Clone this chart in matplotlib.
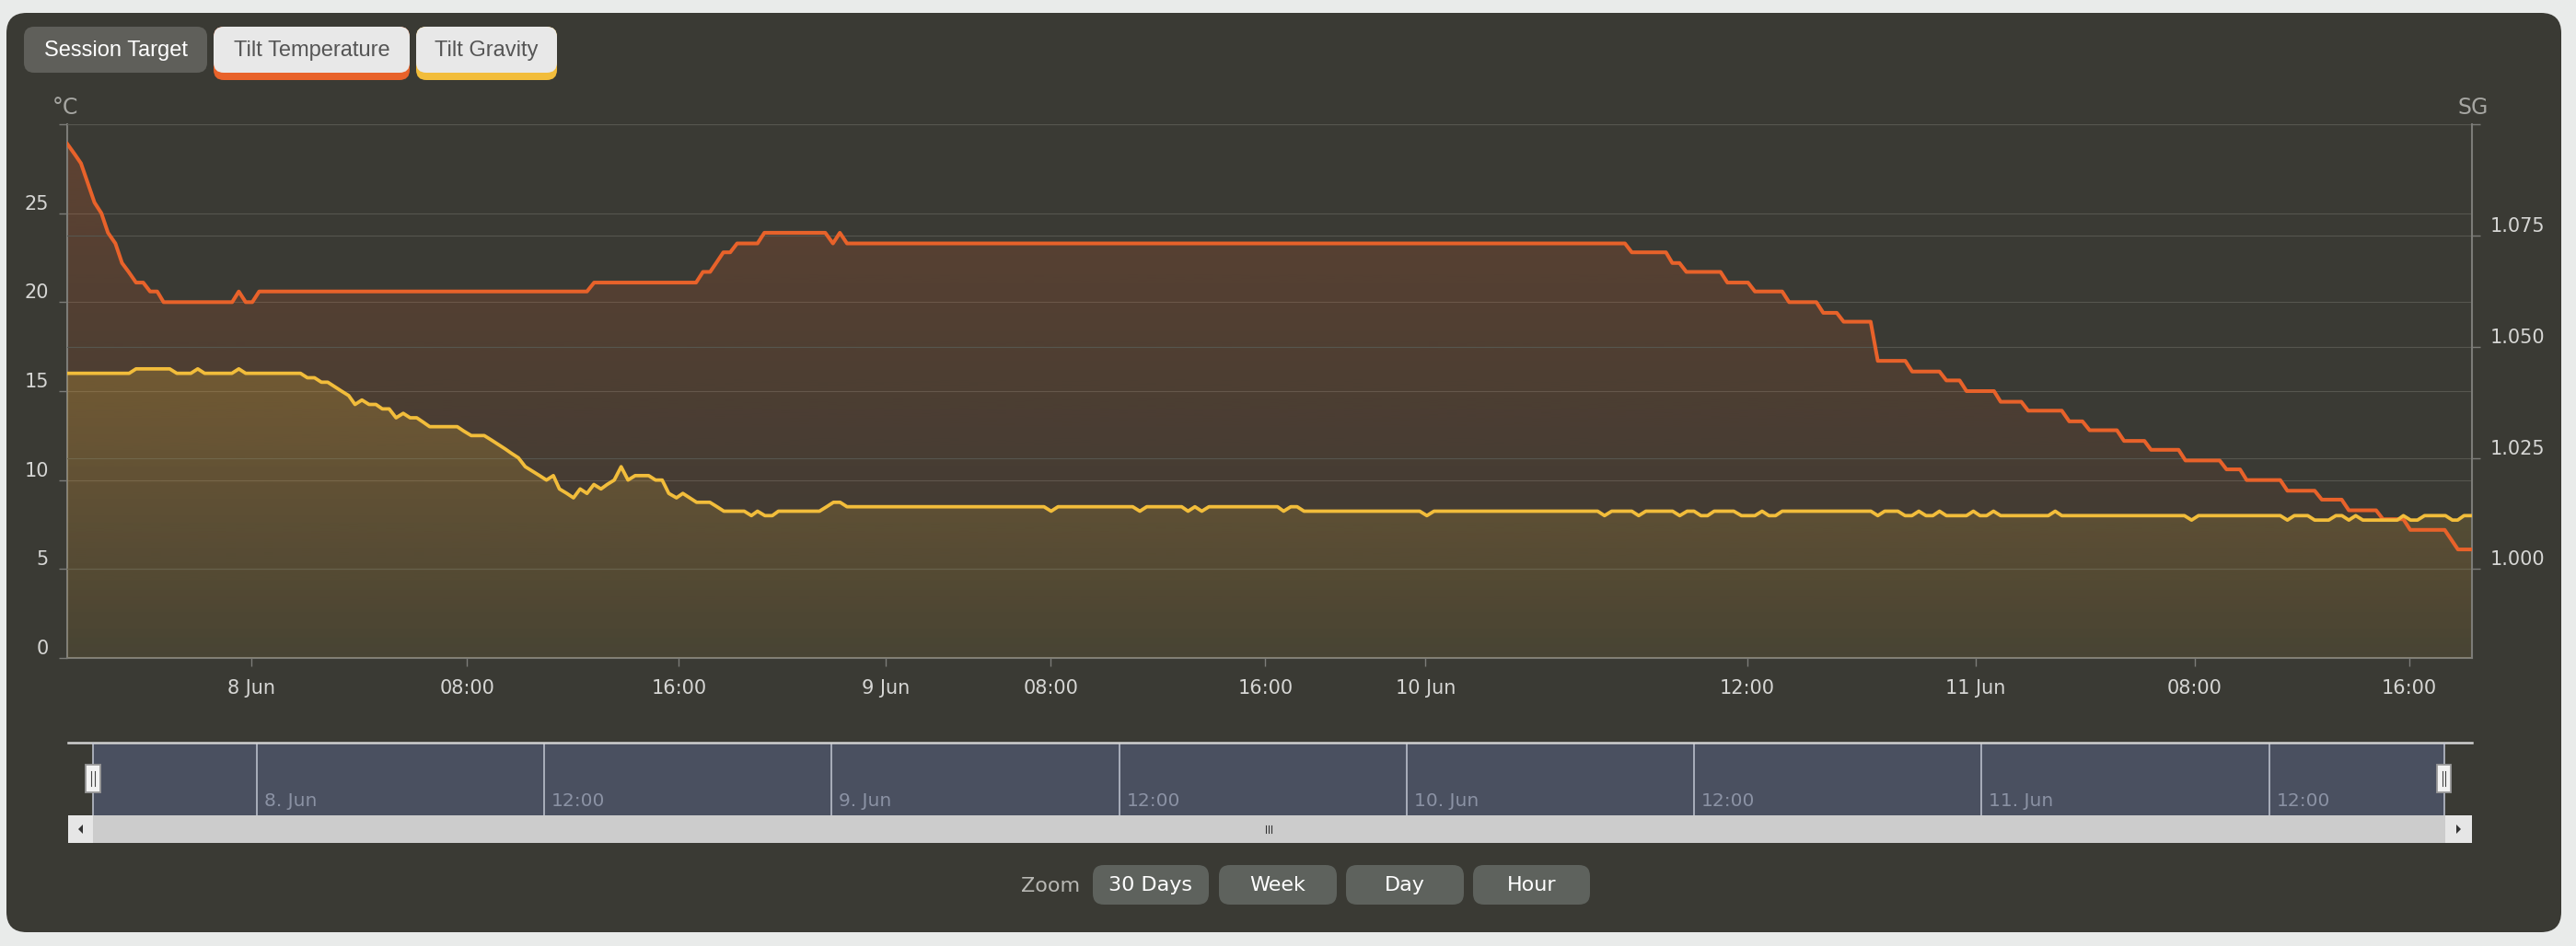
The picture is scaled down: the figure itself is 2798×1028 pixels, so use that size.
import numpy as np
import matplotlib
matplotlib.use("Agg")
import matplotlib.pyplot as plt
import matplotlib.colors as mcolors
from matplotlib.patches import FancyBboxPatch, Rectangle, Polygon
from matplotlib.transforms import blended_transform_factory, ScaledTranslation

# ---------------------------------------------------------------------------
# data (x = position along the ordinal time axis, in hours-like units)
# ---------------------------------------------------------------------------
TEMP_X = [0.0, 0.29, 0.52, 1.03, 1.29, 1.54, 1.82, 2.07, 2.32, 2.60,
          2.87, 3.13, 3.40, 3.64, 6.23, 6.48, 6.74, 6.99, 7.25, 19.63,
          19.90, 23.75, 24.01, 24.28, 24.51, 24.78, 25.04, 25.30, 26.07, 26.33,
          28.63, 28.92, 29.18, 29.45, 58.83, 59.09, 60.38, 60.62, 60.89, 61.15,
          62.44, 62.70, 63.48, 63.74, 64.77, 65.03, 66.06, 66.32, 66.83, 67.09,
          68.11, 68.38, 69.42, 69.68, 70.71, 70.97, 71.47, 71.73, 72.77, 73.02,
          73.80, 74.06, 75.33, 75.61, 76.11, 76.38, 77.41, 77.68, 78.45, 78.70,
          79.74, 80.00, 81.29, 81.55, 82.06, 82.31, 83.58, 83.85, 84.88, 85.15,
          85.90, 86.17, 87.20, 87.46, 88.23, 88.49, 89.79, 90.29, 90.82]
TEMP_C = [28.9, 28.3, 27.8, 25.6, 25.0, 23.9, 23.3, 22.2, 21.7, 21.1,
          21.1, 20.6, 20.6, 20.0, 20.0, 20.6, 20.0, 20.0, 20.6, 20.6,
          21.1, 21.1, 21.7, 21.7, 22.2, 22.8, 22.8, 23.3, 23.3, 23.9,
          23.9, 23.3, 23.9, 23.3, 23.3, 22.8, 22.8, 22.2, 22.2, 21.7,
          21.7, 21.1, 21.1, 20.6, 20.6, 20.0, 20.0, 19.4, 19.4, 18.9,
          18.9, 16.7, 16.7, 16.1, 16.1, 15.6, 15.6, 15.0, 15.0, 14.4,
          14.4, 13.9, 13.9, 13.3, 13.3, 12.8, 12.8, 12.2, 12.2, 11.7,
          11.7, 11.1, 11.1, 10.6, 10.6, 10.0, 10.0, 9.4, 9.4, 8.9,
          8.9, 8.3, 8.3, 7.8, 7.8, 7.2, 7.2, 6.1, 6.1]

GRAV_X = [0.0, 2.34, 2.60, 3.87, 4.14, 4.67, 4.93, 5.19, 6.22, 6.48,
          6.74, 8.81, 9.07, 9.34, 9.60, 9.84, 10.10, 10.36, 10.63, 10.87,
          11.13, 11.40, 11.66, 11.90, 12.16, 12.42, 12.69, 12.95, 13.20, 13.45,
          13.69, 14.73, 14.98, 15.26, 15.75, 16.02, 16.28, 16.54, 16.78, 17.04,
          17.30, 17.57, 17.84, 18.10, 18.36, 18.59, 18.87, 19.12, 19.37, 19.63,
          19.89, 20.16, 20.39, 20.66, 20.92, 21.18, 21.45, 21.96, 22.22, 22.47,
          22.72, 23.01, 23.25, 23.51, 23.77, 24.27, 24.54, 24.80, 25.57, 25.84,
          26.07, 26.35, 26.63, 26.86, 28.41, 28.68, 28.94, 29.19, 29.45, 36.89,
          37.16, 37.42, 40.24, 40.51, 40.77, 42.09, 42.33, 42.59, 42.85, 43.12,
          45.71, 45.94, 46.21, 46.45, 46.71, 51.08, 51.35, 51.62, 57.80, 58.06,
          58.33, 59.09, 59.35, 59.62, 60.63, 60.90, 61.18, 61.44, 61.70, 61.95,
          62.20, 62.94, 63.23, 63.74, 64.01, 64.27, 64.52, 64.77, 68.12, 68.38,
          68.64, 69.14, 69.41, 69.67, 69.93, 70.20, 70.46, 70.71, 70.97, 71.73,
          71.99, 72.24, 72.49, 72.75, 73.02, 74.82, 75.08, 75.33, 79.96, 80.23,
          80.49, 83.58, 83.85, 84.11, 84.62, 84.88, 85.41, 85.68, 85.91, 86.17,
          86.43, 86.70, 88.00, 88.23, 88.50, 88.76, 89.03, 89.82, 90.08, 90.28,
          90.52, 90.82]
GRAV_SG = [1.044, 1.044, 1.045, 1.045, 1.044, 1.044, 1.045, 1.044, 1.044, 1.045,
           1.044, 1.044, 1.043, 1.043, 1.042, 1.042, 1.041, 1.040, 1.039, 1.037,
           1.038, 1.037, 1.037, 1.036, 1.036, 1.034, 1.035, 1.034, 1.034, 1.033,
           1.032, 1.032, 1.031, 1.030, 1.030, 1.029, 1.028, 1.027, 1.026, 1.025,
           1.023, 1.022, 1.021, 1.020, 1.021, 1.018, 1.017, 1.016, 1.018, 1.017,
           1.019, 1.018, 1.019, 1.020, 1.023, 1.020, 1.021, 1.021, 1.020, 1.020,
           1.017, 1.016, 1.017, 1.016, 1.015, 1.015, 1.014, 1.013, 1.013, 1.012,
           1.013, 1.012, 1.012, 1.013, 1.013, 1.014, 1.015, 1.015, 1.014, 1.014,
           1.013, 1.014, 1.014, 1.013, 1.014, 1.014, 1.013, 1.014, 1.013, 1.014,
           1.014, 1.013, 1.014, 1.014, 1.013, 1.013, 1.012, 1.013, 1.013, 1.012,
           1.013, 1.013, 1.012, 1.013, 1.013, 1.012, 1.013, 1.013, 1.012, 1.012,
           1.013, 1.013, 1.012, 1.012, 1.013, 1.012, 1.012, 1.013, 1.013, 1.012,
           1.013, 1.013, 1.012, 1.012, 1.013, 1.012, 1.012, 1.013, 1.012, 1.012,
           1.013, 1.012, 1.012, 1.013, 1.012, 1.012, 1.013, 1.012, 1.012, 1.011,
           1.012, 1.012, 1.011, 1.012, 1.012, 1.011, 1.011, 1.012, 1.012, 1.011,
           1.012, 1.011, 1.011, 1.012, 1.011, 1.011, 1.012, 1.012, 1.011, 1.011,
           1.012, 1.012]

X_RANGE = (0.0, 90.82)
XTICK_POS = [6.96, 15.10, 23.10, 30.92, 37.15, 45.25, 51.30, 63.44, 72.07, 80.35, 88.45]
XTICK_LABELS = ["8 Jun", "08:00", "16:00", "9 Jun", "08:00", "16:00",
                "10 Jun", "12:00", "11 Jun", "08:00", "16:00"]

TEMP_RANGE = (0, 30)
TEMP_TICKS = [0, 5, 10, 15, 20, 25, 30]
SG_RANGE = (0.98, 1.10)
SG_TICKS = [1.000, 1.025, 1.050, 1.075, 1.100]

# navigator (linear clock hours from 8 Jun 00:00)
NAV_RANGE = (-7.88, 92.47)
NAV_SELECTION = (-6.84, 91.30)
NAV_TICKS = [0, 12, 24, 36, 48, 60, 72, 84]
NAV_LABELS = ["8. Jun", "12:00", "9. Jun", "12:00", "10. Jun", "12:00", "11. Jun", "12:00"]

LEGEND_BUTTONS = ["Session Target", "Tilt Temperature", "Tilt Gravity"]
ZOOM_BUTTONS = ["30 Days", "Week", "Day", "Hour"]

# ---------------------------------------------------------------------------
# style
# ---------------------------------------------------------------------------
C_PAGE = "#e9ebea"
C_PANEL = "#3a3a34"
C_GRID = "#56564f"
C_AXIS = "#7c7c78"
C_LABEL = "#d6d6d4"
C_TITLE = "#a6a6a2"
C_TEMP = "#e8622a"
C_GRAV = "#f2bd3b"
C_NAV = "#4a5060"
C_NAV_LINE = "#c3c8d4"
C_NAV_TEXT = "#8b92a4"
C_BTN = "#5e625d"

W, H = 2798, 1028
fig = plt.figure(figsize=(W / 100, H / 100), dpi=100, facecolor=C_PAGE)


def fig_rect(x0, y0, x1, y1):
    """pixel box (origin top-left) -> figure fraction [l, b, w, h]"""
    return [x0 / W, 1 - y1 / H, (x1 - x0) / W, (y1 - y0) / H]


def gradient_area(axis, xs, ys, base, color, a_top, a_bot, z):
    xs = np.asarray(xs)
    ys = np.asarray(ys)
    rgba = np.zeros((256, 1, 4))
    rgba[..., :3] = mcolors.to_rgb(color)
    rgba[:, 0, 3] = np.linspace(a_top, a_bot, 256)
    im = axis.imshow(rgba, aspect="auto", origin="upper", interpolation="bilinear",
                     extent=[xs.min(), xs.max(), base, ys.max()], zorder=z)
    verts = np.vstack([np.column_stack([xs, ys]), [[xs[-1], base], [xs[0], base]]])
    clip = Polygon(verts, closed=True, transform=axis.transData,
                   facecolor="none", edgecolor="none")
    axis.add_patch(clip)
    im.set_clip_path(clip)


# --- background panel / buttons (pixel coordinates) ------------------------
bg = fig.add_axes([0, 0, 1, 1], zorder=0)
bg.set_xlim(0, W)
bg.set_ylim(H, 0)
bg.axis("off")

bg.add_patch(FancyBboxPatch((7, 14), 2775, 999, boxstyle="round,pad=0,rounding_size=22",
                            facecolor=C_PANEL, edgecolor="none"))

btn_boxes = [(26, 225), (232, 445), (452, 605)]
btn_accent = [None, C_TEMP, C_GRAV]
for (x0, x1), label, acc in zip(btn_boxes, LEGEND_BUTTONS, btn_accent):
    if acc is None:
        bg.add_patch(FancyBboxPatch((x0, 29), x1 - x0, 50, boxstyle="round,pad=0,rounding_size=11",
                                    facecolor="#5f5f5a", edgecolor="none"))
        fg = "white"
    else:
        bg.add_patch(FancyBboxPatch((x0, 29), x1 - x0, 58, boxstyle="round,pad=0,rounding_size=11",
                                    facecolor=acc, edgecolor="none"))
        bg.add_patch(FancyBboxPatch((x0, 29), x1 - x0, 50, boxstyle="round,pad=0,rounding_size=11",
                                    facecolor="#e8e8e8", edgecolor="none"))
        fg = "#555555"
    bg.text((x0 + x1) / 2, 55, label, ha="center", va="center", fontsize=17,
            family="Liberation Sans", color=fg)

bg.text(57, 117, "°C", ha="left", va="center", fontsize=17, color=C_TITLE)
bg.text(2703, 117, "SG", ha="right", va="center", fontsize=17, color=C_TITLE)

# scrollbar
bg.add_patch(Rectangle((74, 886), 2611, 30, facecolor="#cccccc", edgecolor="none"))
bg.add_patch(Rectangle((74, 886), 27, 30, facecolor="#e6e6e6", edgecolor="none"))
bg.add_patch(Rectangle((2656, 886), 29, 30, facecolor="#e6e6e6", edgecolor="none"))
bg.add_patch(Polygon([[85, 901], [90, 896], [90, 906]], closed=True, facecolor="#333333"))
bg.add_patch(Polygon([[2673, 901], [2668, 896], [2668, 906]], closed=True, facecolor="#333333"))
for gx in (1375, 1378, 1381):
    bg.plot([gx, gx], [897, 905], color="#333333", lw=0.8)

# zoom buttons
bg.text(1173, 963, "Zoom", ha="right", va="center", fontsize=16, color="#b8b8b4")
zoom_boxes = [(1187, 1313), (1324, 1452), (1462, 1590), (1600, 1727)]
for (x0, x1), label in zip(zoom_boxes, ZOOM_BUTTONS):
    bg.add_patch(FancyBboxPatch((x0, 940), x1 - x0, 43, boxstyle="round,pad=0,rounding_size=12",
                                facecolor=C_BTN, edgecolor="none"))
    bg.text((x0 + x1) / 2, 962, label, ha="center", va="center", fontsize=16, color="white")

# --- main chart --------------------------------------------------------------
ax = fig.add_axes(fig_rect(73, 135, 2685, 715), zorder=1)
ax.patch.set_visible(False)
ax2 = ax.twinx()
ax2.set_zorder(2)
ax2.patch.set_visible(False)

gradient_area(ax, TEMP_X, TEMP_C, TEMP_RANGE[0], C_TEMP, 0.21, 0.0, 1)
gradient_area(ax2, GRAV_X, GRAV_SG, SG_RANGE[0], C_GRAV, 0.22, 0.08, 1)

ax2.plot(TEMP_X, TEMP_C, color=C_TEMP, lw=2.9, solid_joinstyle="round",
         transform=ax.transData, zorder=3)
ax2.plot(GRAV_X, GRAV_SG, color=C_GRAV, lw=2.7, solid_joinstyle="round", zorder=4)

ax.set_xlim(X_RANGE)
ax.set_ylim(TEMP_RANGE)
ax2.set_ylim(SG_RANGE)

ax.set_yticks(TEMP_TICKS)
ax.set_yticklabels([str(t) if t != TEMP_TICKS[-1] else "" for t in TEMP_TICKS])
ax2.set_yticks(SG_TICKS)
ax2.set_yticklabels([f"{t:.3f}" if t != SG_TICKS[-1] else "" for t in SG_TICKS])
ax.set_xticks(XTICK_POS)
ax.set_xticklabels(XTICK_LABELS)

for a in (ax, ax2):
    a.yaxis.grid(True, color=C_GRID, lw=0.8)
    a.set_axisbelow(True)
    for s in a.spines.values():
        s.set_visible(False)
ax.xaxis.grid(False)
ax.spines["left"].set_visible(True)
ax.spines["bottom"].set_visible(True)
ax2.spines["right"].set_visible(True)
for s in (ax.spines["left"], ax.spines["bottom"], ax2.spines["right"]):
    s.set_color(C_AXIS)
    s.set_linewidth(1.5)

ax.tick_params(axis="y", direction="out", length=6.5, width=1, color=C_AXIS,
               labelcolor=C_LABEL, labelsize=15, pad=8)
ax2.tick_params(axis="y", direction="out", length=6.5, width=1, color=C_AXIS,
                labelcolor=C_LABEL, labelsize=15, pad=8)
ax.tick_params(axis="x", direction="out", length=6.5, width=1, color=C_AXIS,
               labelcolor=C_LABEL, labelsize=15, pad=10)

# y labels sit a little above their tick, as in the original
lift = ScaledTranslation(0, 12 / 100, fig.dpi_scale_trans)
for tk in ax.yaxis.get_major_ticks():
    tk.label1.set_transform(tk.label1.get_transform() + lift)
for tk in ax2.yaxis.get_major_ticks():
    tk.label2.set_transform(tk.label2.get_transform() + lift)

# --- navigator -----------------------------------------------------------------
nav = fig.add_axes(fig_rect(74, 807, 2685, 886), zorder=1)
nav.set_xlim(NAV_RANGE)
nav.set_ylim(0, 1)
nav.axis("off")
mix = blended_transform_factory(nav.transData, nav.transAxes)

nav.axvspan(NAV_SELECTION[0], NAV_SELECTION[1], color=C_NAV, lw=0)
for t, lab in zip(NAV_TICKS, NAV_LABELS):
    nav.axvline(t, color=C_NAV_LINE, lw=1.1)
    nav.text(t + 0.3, 0.19, lab, transform=mix, ha="left", va="center",
             fontsize=14.5, color=C_NAV_TEXT)
nav.axhline(1.0, color="#d0d0d0", lw=1.8, clip_on=False)
nav.axvline(NAV_SELECTION[0], color=C_NAV_LINE, lw=1.1)
nav.axvline(NAV_SELECTION[1], color=C_NAV_LINE, lw=1.1)

for hx in NAV_SELECTION:
    nav.add_patch(Rectangle((hx - 0.3, 0.316), 0.6, 0.38, transform=mix, facecolor="#f2f2f2",
                            edgecolor="#999999", lw=1.3, clip_on=False, zorder=5))
    for dx in (-0.06, 0.06):
        nav.plot([hx + dx, hx + dx], [0.40, 0.61], transform=mix, color="#444444",
                 lw=0.8, clip_on=False, zorder=6)

fig.savefig("out.png", dpi=100, facecolor=fig.get_facecolor())
